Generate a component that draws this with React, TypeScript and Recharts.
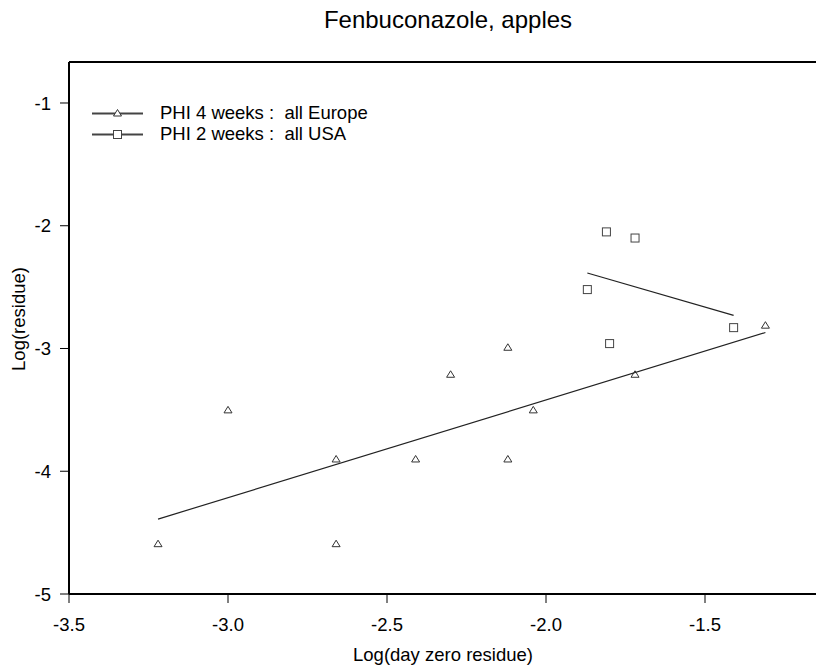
import * as React from "react";
import { ScatterChart, Scatter, XAxis, YAxis, ReferenceLine } from "recharts";

// Europe trials (PHI 4 weeks), log10 values
const europeX = [-3.22, -3.0, -2.66, -2.66, -2.41, -2.3, -2.12, -2.12, -2.04, -1.72, -1.31];
const europeY = [-4.59, -3.5, -3.9, -4.59, -3.9, -3.21, -2.99, -3.9, -3.5, -3.21, -2.81];

// USA trials (PHI 2 weeks)
const usaX = [-1.87, -1.81, -1.72, -1.8, -1.41];
const usaY = [-2.52, -2.05, -2.1, -2.96, -2.83];

// fitted lines, end points
const europeFitX = [-3.22, -1.31];
const europeFitY = [-4.39, -2.87];
const usaFitX = [-1.87, -1.41];
const usaFitY = [-2.385, -2.73];

const xTicks = [-3.5, -3.0, -2.5, -2.0, -1.5];
const yTicks = [-1, -2, -3, -4, -5];
const yTop = -0.666;

const legendLabels = ["PHI 4 weeks :\u00a0 all Europe", "PHI 2 weeks :\u00a0 all USA"];

const FONT = '"Liberation Sans", Arial, Helvetica, sans-serif';

const zip = (xs: number[], ys: number[]) => xs.map((x, i) => ({ x, y: ys[i] }));

function Triangle({ cx, cy }: { cx?: number; cy?: number }) {
  if (cx == null || cy == null) return <g />;
  return (
    <path
      d={`M${cx},${cy - 3.5} L${cx + 4},${cy + 3} L${cx - 4},${cy + 3} Z`}
      fill="none"
      stroke="#333"
      strokeWidth={1}
    />
  );
}

function Square({ cx, cy }: { cx?: number; cy?: number }) {
  if (cx == null || cy == null) return <g />;
  return <rect x={cx - 4} y={cy - 4} width={8} height={8} fill="none" stroke="#444" strokeWidth={1} />;
}

const NoDot = () => <g />;

export default function App() {
  const europe = zip(europeX, europeY);
  const usa = zip(usaX, usaY);
  const europeFit = zip(europeFitX, europeFitY);
  const usaFit = zip(usaFitX, usaFitY);

  const tickStyle = { fill: "#000", fontSize: 18.5, fontFamily: FONT };

  return (
    <div
      style={{
        position: "absolute",
        left: 0,
        top: 0,
        width: 816,
        height: 669,
        overflow: "hidden",
        background: "#fff",
      }}
    >
      <ScatterChart width={864} height={669} margin={{ top: 62, right: 0, bottom: 15, left: 0 }}>
        <XAxis
          dataKey="x"
          type="number"
          domain={[-3.5, -1.0]}
          ticks={xTicks}
          allowDataOverflow
          tickFormatter={(v: number) => v.toFixed(1)}
          tick={tickStyle}
          tickSize={9}
          tickMargin={15}
          height={60}
          axisLine={{ stroke: "#000", strokeWidth: 2 }}
          tickLine={{ stroke: "#000" }}
        />
        <YAxis
          dataKey="y"
          type="number"
          domain={[-5, yTop]}
          ticks={yTicks}
          allowDataOverflow
          tickFormatter={(v: number) => String(v)}
          tick={tickStyle}
          tickSize={9}
          tickMargin={9}
          width={69}
          axisLine={{ stroke: "#000", strokeWidth: 2 }}
          tickLine={{ stroke: "#000" }}
        />
        <ReferenceLine y={yTop} stroke="#000" strokeWidth={2} />
        <Scatter
          data={europeFit}
          line={{ stroke: "#222", strokeWidth: 1.2 }}
          lineType="joint"
          shape={NoDot}
          isAnimationActive={false}
        />
        <Scatter
          data={usaFit}
          line={{ stroke: "#222", strokeWidth: 1.2 }}
          lineType="joint"
          shape={NoDot}
          isAnimationActive={false}
        />
        <Scatter data={europe} shape={Triangle} isAnimationActive={false} />
        <Scatter data={usa} shape={Square} isAnimationActive={false} />
      </ScatterChart>

      {/* title, axis titles and legend */}
      <svg
        width={816}
        height={669}
        style={{ position: "absolute", left: 0, top: 0, pointerEvents: "none" }}
        fontFamily={FONT}
      >
        <text x={448} y={28} textAnchor="middle" fontSize={24} fill="#000">
          Fenbuconazole, apples
        </text>
        <text x={443} y={661} textAnchor="middle" fontSize={18.5} fill="#000">
          Log(day zero residue)
        </text>
        <text
          x={18}
          y={319}
          textAnchor="middle"
          dominantBaseline="central"
          fontSize={18.5}
          fill="#000"
          transform="rotate(-90, 18, 319)"
        >
          Log(residue)
        </text>

        <line x1={92} x2={143} y1={113.5} y2={113.5} stroke="#444" strokeWidth={2.2} />
        <path d="M117.5,109.5 L121.5,116 L113.5,116 Z" fill="#fff" stroke="#333" strokeWidth={1} />
        <text x={160} y={118.5} fontSize={18.5} fill="#000">
          {legendLabels[0]}
        </text>

        <line x1={92} x2={143} y1={134.5} y2={134.5} stroke="#444" strokeWidth={2.2} />
        <rect x={113.5} y={130.5} width={8} height={8} fill="#fff" stroke="#444" strokeWidth={1} />
        <text x={160} y={140} fontSize={18.5} fill="#000">
          {legendLabels[1]}
        </text>
      </svg>
    </div>
  );
}
